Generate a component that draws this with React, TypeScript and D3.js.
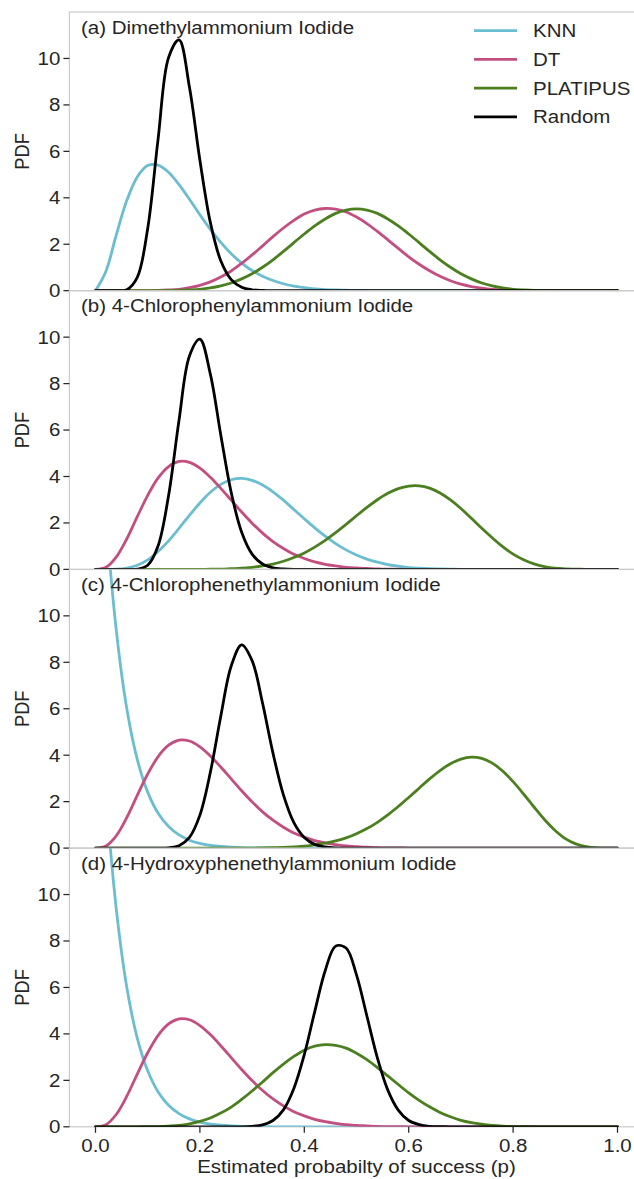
import React from 'react';
import * as d3 from 'd3';

// shared grid of p values (x axis)
const pGrid = [
  0, 0.02, 0.04, 0.06, 0.08, 0.1, 0.12, 0.14, 0.16, 0.18,
  0.2, 0.22, 0.24, 0.26, 0.28, 0.3, 0.32, 0.34, 0.36, 0.38,
  0.4, 0.42, 0.44, 0.46, 0.48, 0.5, 0.52, 0.54, 0.56, 0.58,
  0.6, 0.62, 0.64, 0.66, 0.68, 0.7, 0.72, 0.74, 0.76, 0.78,
  0.8, 0.82, 0.84, 0.86, 0.88, 0.9, 0.92, 0.94, 0.96, 0.98, 1,
];

const methods = ['KNN', 'DT', 'PLATIPUS', 'Random'];
const methodColors = ['#6bbdd0', '#c24f80', '#4b7f1f', '#000000'];

const panelTitles = [
  '(a) Dimethylammonium Iodide',
  '(b) 4-Chlorophenylammonium Iodide',
  '(c) 4-Chlorophenethylammonium Iodide',
  '(d) 4-Hydroxyphenethylammonium Iodide',
];

const yTicks = [0, 2, 4, 6, 8, 10];
const xTicks = [0, 0.2, 0.4, 0.6, 0.8, 1.0];

// (a) Dimethylammonium Iodide
const knnA = [
  0, 0.84, 2.42, 3.89, 4.9, 5.39, 5.41, 5.1, 4.57, 3.94,
  3.27, 2.64, 2.08, 1.59, 1.19, 0.87, 0.62, 0.44, 0.3, 0.2,
  0.13, 0.08, 0.05, 0.03, 0.02, 0.01, 0.01, 0, 0, 0,
  0, 0, 0, 0, 0, 0, 0, 0, 0, 0,
  0, 0, 0, 0, 0, 0, 0, 0, 0, 0, 0,
];
const dtA = [
  0, 0, 0, 0, 0.001, 0.003, 0.01, 0.03, 0.06, 0.13,
  0.23, 0.38, 0.59, 0.85, 1.18, 1.54, 1.93, 2.33, 2.7, 3.03,
  3.3, 3.47, 3.54, 3.51, 3.39, 3.17, 2.89, 2.55, 2.19, 1.82,
  1.46, 1.14, 0.86, 0.62, 0.43, 0.28, 0.18, 0.11, 0.06, 0.03,
  0.01, 0.01, 0, 0, 0, 0, 0, 0, 0, 0, 0,
];
const platA = [
  0, 0, 0, 0, 0, 0, 0, 0.01, 0.01, 0.03,
  0.06, 0.12, 0.21, 0.33, 0.51, 0.73, 1.01, 1.33, 1.69, 2.07,
  2.44, 2.79, 3.09, 3.33, 3.47, 3.52, 3.47, 3.33, 3.09, 2.79,
  2.44, 2.07, 1.69, 1.33, 1.01, 0.73, 0.51, 0.33, 0.21, 0.12,
  0.06, 0.03, 0.01, 0.01, 0, 0, 0, 0, 0, 0, 0,
];
const rndA = [
  0, 0, 0, 0.04, 0.57, 2.68, 6.55, 10.04, 10.8, 8.76,
  5.62, 2.94, 1.29, 0.48, 0.15, 0.04, 0.01, 0, 0, 0,
  0, 0, 0, 0, 0, 0, 0, 0, 0, 0,
  0, 0, 0, 0, 0, 0, 0, 0, 0, 0,
  0, 0, 0, 0, 0, 0, 0, 0, 0, 0, 0,
];

// (b) 4-Chlorophenylammonium Iodide
const knnB = [
  0, 0, 0.01, 0.06, 0.18, 0.41, 0.77, 1.23, 1.77, 2.33,
  2.86, 3.32, 3.66, 3.86, 3.92, 3.83, 3.63, 3.34, 2.98, 2.58,
  2.18, 1.79, 1.43, 1.11, 0.84, 0.62, 0.44, 0.31, 0.21, 0.14,
  0.08, 0.05, 0.03, 0.02, 0.01, 0, 0, 0, 0, 0,
  0, 0, 0, 0, 0, 0, 0, 0, 0, 0, 0,
];
const dtB = [
  0, 0.09, 0.54, 1.32, 2.27, 3.19, 3.94, 4.43, 4.65, 4.61,
  4.36, 3.97, 3.49, 2.98, 2.47, 1.99, 1.56, 1.2, 0.9, 0.65,
  0.47, 0.32, 0.22, 0.15, 0.09, 0.06, 0.04, 0.02, 0.01, 0.01,
  0, 0, 0, 0, 0, 0, 0, 0, 0, 0,
  0, 0, 0, 0, 0, 0, 0, 0, 0, 0, 0,
];
const platB = [
  0, 0, 0, 0, 0, 0, 0, 0, 0, 0,
  0, 0.01, 0.01, 0.03, 0.05, 0.09, 0.15, 0.23, 0.35, 0.51,
  0.71, 0.96, 1.25, 1.58, 1.94, 2.31, 2.67, 3.0, 3.28, 3.48,
  3.59, 3.6, 3.5, 3.29, 2.99, 2.62, 2.2, 1.77, 1.36, 0.98,
  0.66, 0.42, 0.24, 0.12, 0.05, 0.02, 0.01, 0, 0, 0, 0,
];
const rndB = [
  0, 0, 0, 0, 0.01, 0.18, 1.02, 3.18, 6.42, 9.19,
  9.91, 8.41, 5.79, 3.31, 1.6, 0.66, 0.23, 0.07, 0.02, 0,
  0, 0, 0, 0, 0, 0, 0, 0, 0, 0,
  0, 0, 0, 0, 0, 0, 0, 0, 0, 0,
  0, 0, 0, 0, 0, 0, 0, 0, 0, 0, 0,
];

// (c) 4-Chlorophenethylammonium Iodide
const knnC = [
  22.0, 14.39, 9.34, 6.0, 3.82, 2.41, 1.5, 0.93, 0.57, 0.34,
  0.2, 0.12, 0.07, 0.04, 0.02, 0.01, 0.01, 0, 0, 0,
  0, 0, 0, 0, 0, 0, 0, 0, 0, 0,
  0, 0, 0, 0, 0, 0, 0, 0, 0, 0,
  0, 0, 0, 0, 0, 0, 0, 0, 0, 0, 0,
];
const dtC = dtB;
const platC = [
  0, 0, 0, 0, 0, 0, 0, 0, 0, 0,
  0, 0, 0, 0, 0, 0, 0.01, 0.02, 0.03, 0.05,
  0.08, 0.14, 0.21, 0.31, 0.44, 0.62, 0.84, 1.11, 1.43, 1.79,
  2.18, 2.58, 2.98, 3.34, 3.63, 3.83, 3.92, 3.86, 3.66, 3.32,
  2.86, 2.33, 1.77, 1.23, 0.77, 0.41, 0.18, 0.06, 0.01, 0, 0,
];
const rndC = [
  0, 0, 0, 0, 0, 0, 0, 0.01, 0.1, 0.46,
  1.42, 3.26, 5.68, 7.84, 8.75, 8.07, 6.24, 4.09, 2.29, 1.1,
  0.46, 0.16, 0.05, 0.01, 0, 0, 0, 0, 0, 0,
  0, 0, 0, 0, 0, 0, 0, 0, 0, 0,
  0, 0, 0, 0, 0, 0, 0, 0, 0, 0, 0,
];

// (d) 4-Hydroxyphenethylammonium Iodide
const knnD = knnC;
const dtD = dtB;
const platD = [
  0, 0, 0, 0, 0.001, 0.003, 0.01, 0.03, 0.06, 0.13,
  0.23, 0.38, 0.59, 0.85, 1.18, 1.54, 1.93, 2.33, 2.7, 3.03,
  3.3, 3.47, 3.54, 3.51, 3.39, 3.17, 2.89, 2.55, 2.19, 1.82,
  1.46, 1.14, 0.86, 0.62, 0.43, 0.28, 0.18, 0.11, 0.06, 0.03,
  0.01, 0.01, 0, 0, 0, 0, 0, 0, 0, 0, 0,
];
const rndD = [
  0, 0, 0, 0, 0, 0, 0, 0, 0, 0,
  0, 0, 0, 0, 0, 0.02, 0.08, 0.27, 0.73, 1.65,
  3.11, 4.96, 6.72, 7.78, 7.7, 6.54, 4.76, 2.97, 1.58, 0.72,
  0.27, 0.09, 0.02, 0.01, 0, 0, 0, 0, 0, 0,
  0, 0, 0, 0, 0, 0, 0, 0, 0, 0, 0,
];

const panelSeries = [
  [knnA, dtA, platA, rndA],
  [knnB, dtB, platB, rndB],
  [knnC, dtC, platC, rndC],
  [knnD, dtD, platD, rndD],
];

const W = 634;
const H = 1179;
const font = '"Liberation Sans", Arial, sans-serif';
const textColor = '#262626';
const spineColor = '#cccccc';
const fs = 18.3;
const stretch = 1.12; // text in the picture is a little wider than tall

const panelTop = 12;
const panelH = 278.7;
const left = 69.4;

// text drawn at (x, y), stretched horizontally around its anchor
const T = ({ x, y, anchor = 'start', rotate = 0, dy = '0', children }: any) => (
  <text transform={`translate(${x},${y}) scale(${stretch},1) rotate(${rotate})`}
    textAnchor={anchor} dy={dy} fontSize={fs} fill={textColor}>{children}</text>
);

const App = () => {
  const x = d3.scaleLinear().domain([-0.05, 1.05]).range([left, left + 574.2]);

  const line = (vals: number[], y: d3.ScaleLinear<number, number>) =>
    d3.line<number>()
      .x((_, i) => x(pGrid[i]))
      .y(d => y(d))
      .curve(d3.curveCatmullRom.alpha(0.5))(vals) || '';

  const last = panelSeries.length - 1;
  const bottomY = panelTop + panelH * panelSeries.length;

  return (
    <svg width={W} height={H} style={{ position: 'absolute', left: 0, top: 0, background: '#fff' }}
      fontFamily={font}>
      <defs>
        {panelSeries.map((_, pi) => (
          <clipPath id={`clip${pi}`} key={pi}>
            <rect x={left} y={panelTop + pi * panelH} width={W} height={panelH} />
          </clipPath>
        ))}
      </defs>
      {panelSeries.map((series, pi) => {
        const top = panelTop + pi * panelH;
        const bottom = top + panelH;
        const y = d3.scaleLinear().domain([0, 12]).range([bottom, top]);
        return (
          <g key={pi}>
            <rect x={left} y={top} width={W} height={panelH} fill="none"
              stroke={spineColor} strokeWidth={1.25} />
            <g clipPath={`url(#clip${pi})`}>
              {series.map((vals, si) => (
                <path key={si} d={line(vals, y)} fill="none" stroke={methodColors[si]}
                  strokeWidth={2.8} strokeLinejoin="round" strokeLinecap="round" />
              ))}
            </g>
            {yTicks.map(t => (
              <g key={t}>
                <line x1={left - 6} x2={left} y1={y(t)} y2={y(t)} stroke={textColor} strokeWidth={1.25} />
                <T x={left - 9} y={y(t)} anchor="end" dy="0.35em">{t}</T>
              </g>
            ))}
            <T x={29} y={(top + bottom) / 2} anchor="middle" rotate={-90}>PDF</T>
            <T x={81} y={top + 21.5}>{panelTitles[pi]}</T>
            {pi === 0 && methods.map((m, mi) => (
              <g key={m}>
                <line x1={474} x2={517} y1={top + 18.7 + mi * 28.7} y2={top + 18.7 + mi * 28.7}
                  stroke={methodColors[mi]} strokeWidth={2.8} />
                <T x={533} y={top + 18.7 + mi * 28.7} dy="0.35em">{m}</T>
              </g>
            ))}
            {pi === last && xTicks.map(t => (
              <g key={t}>
                <line x1={x(t)} x2={x(t)} y1={bottom} y2={bottom + 6} stroke={textColor} strokeWidth={1.25} />
                <T x={x(t)} y={bottom + 25.5} anchor="middle">{t.toFixed(1)}</T>
              </g>
            ))}
          </g>
        );
      })}
      <T x={x(0.5)} y={bottomY + 46} anchor="middle">Estimated probabilty of success (p)</T>
    </svg>
  );
};

export default App;
